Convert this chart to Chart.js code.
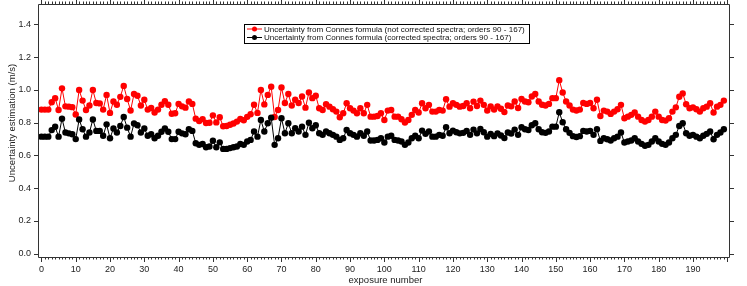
<!DOCTYPE html>
<html>
<head>
<meta charset="utf-8">
<script src="https://cdn.jsdelivr.net/npm/chart.js@4"></script>
<style>
  html, body { margin: 0; padding: 0; background: #fff; }
  #wrap { width: 747px; height: 286px; }
</style>
</head>
<body>
<div id="wrap"><canvas id="chart" width="747" height="286"></canvas></div>
<script>
const notCorrected = [
  0.88, 0.88, 0.88, 0.925, 0.95, 0.878, 1.01, 0.90, 0.898, 0.895,
  0.85, 1.00, 0.935, 0.878, 0.905, 1.00, 0.92, 0.918, 0.88, 0.97,
  0.86, 0.93, 0.91, 0.958, 1.025, 0.945, 0.875, 0.975, 0.965, 0.905,
  0.94, 0.88, 0.89, 0.862, 0.88, 0.91, 0.932, 0.91, 0.855, 0.858,
  0.915, 0.90, 0.892, 0.93, 0.915, 0.825, 0.81, 0.822, 0.798, 0.80,
  0.845, 0.802, 0.833, 0.778, 0.78, 0.788, 0.795, 0.807, 0.823, 0.815,
  0.836, 0.852, 0.91, 0.86, 1.00, 0.912, 0.97, 1.02, 0.835, 0.878,
  1.015, 0.92, 0.975, 0.905, 0.94, 0.92, 0.96, 0.892, 0.985, 0.95,
  0.965, 0.888, 0.878, 0.913, 0.898, 0.882, 0.868, 0.833, 0.858, 0.919,
  0.888, 0.874, 0.858, 0.888, 0.858, 0.909, 0.837, 0.837, 0.841, 0.858,
  0.817, 0.874, 0.878, 0.837, 0.837, 0.821, 0.801, 0.817, 0.848, 0.878,
  0.862, 0.919, 0.888, 0.909, 0.868, 0.868, 0.878, 0.874, 0.943, 0.898,
  0.919, 0.909, 0.898, 0.902, 0.919, 0.888, 0.929, 0.902, 0.935, 0.909,
  0.875, 0.90, 0.88, 0.90, 0.885, 0.865, 0.905, 0.90, 0.93, 0.89,
  0.945, 0.93, 0.925, 0.96, 0.975, 0.93, 0.91, 0.905, 0.915, 0.95,
  0.95, 1.06, 0.985, 0.93, 0.905, 0.88, 0.875, 0.88, 0.92, 0.915,
  0.92, 0.888, 0.94, 0.841, 0.874, 0.868, 0.854, 0.868, 0.882, 0.909,
  0.827, 0.837, 0.848, 0.862, 0.837, 0.817, 0.807, 0.817, 0.837, 0.868,
  0.837, 0.817, 0.813, 0.827, 0.868, 0.894, 0.959, 0.979, 0.913, 0.888,
  0.894, 0.882, 0.868, 0.888, 0.898, 0.919, 0.862, 0.898, 0.909, 0.935
];

const corrected = [
  0.715, 0.715, 0.715, 0.755, 0.775, 0.715, 0.825, 0.74, 0.735, 0.73,
  0.70, 0.82, 0.76, 0.715, 0.74, 0.82, 0.75, 0.75, 0.72, 0.79,
  0.705, 0.765, 0.74, 0.78, 0.835, 0.77, 0.715, 0.795, 0.785, 0.74,
  0.765, 0.72, 0.73, 0.705, 0.72, 0.745, 0.765, 0.745, 0.70, 0.70,
  0.745, 0.735, 0.73, 0.76, 0.75, 0.675, 0.665, 0.67, 0.65, 0.655,
  0.69, 0.65, 0.68, 0.64, 0.64, 0.645, 0.65, 0.655, 0.67, 0.665,
  0.685, 0.695, 0.746, 0.715, 0.817, 0.746, 0.797, 0.831, 0.665, 0.705,
  0.827, 0.736, 0.797, 0.736, 0.766, 0.746, 0.776, 0.726, 0.80, 0.766,
  0.785, 0.736, 0.726, 0.746, 0.736, 0.726, 0.715, 0.695, 0.705, 0.756,
  0.736, 0.726, 0.715, 0.736, 0.72, 0.746, 0.691, 0.691, 0.695, 0.705,
  0.679, 0.715, 0.72, 0.695, 0.691, 0.685, 0.665, 0.679, 0.705, 0.72,
  0.705, 0.752, 0.732, 0.746, 0.715, 0.715, 0.726, 0.72, 0.772, 0.736,
  0.752, 0.742, 0.735, 0.738, 0.75, 0.726, 0.758, 0.735, 0.762, 0.742,
  0.715, 0.732, 0.718, 0.735, 0.722, 0.706, 0.74, 0.734, 0.758, 0.726,
  0.772, 0.76, 0.756, 0.785, 0.797, 0.76, 0.742, 0.738, 0.746, 0.776,
  0.776, 0.864, 0.803, 0.76, 0.738, 0.718, 0.713, 0.718, 0.75, 0.746,
  0.75, 0.726, 0.76, 0.689, 0.705, 0.699, 0.691, 0.705, 0.715, 0.74,
  0.679, 0.685, 0.691, 0.705, 0.685, 0.671, 0.659, 0.665, 0.685, 0.705,
  0.685, 0.671, 0.665, 0.679, 0.705, 0.726, 0.78, 0.797, 0.736, 0.72,
  0.726, 0.715, 0.705, 0.72, 0.732, 0.746, 0.699, 0.726, 0.74, 0.76
];

const exposures = notCorrected.map((v, i) => i);
const yTickValues = [0, 0.2, 0.4, 0.6, 0.8, 1.0, 1.2, 1.4];
const xTickValues = [0, 10, 20, 30, 40, 50, 60, 70, 80, 90, 100, 110, 120, 130, 140, 150, 160, 170, 180, 190];
const seriesNames = [
  'Uncertainty from Connes formula (not corrected spectra; orders 90 - 167)',
  'Uncertainty from Connes formula (corrected spectra; orders 90 - 167)'
];
const seriesColors = ['#ff0000', '#000000'];

const FONT = '"Liberation Sans", Arial, Helvetica, sans-serif';
const AXIS = '#333';

function toPoints(arr) {
  return arr.map((y, i) => ({ x: exposures[i], y: y }));
}

// frame, ticks, tick labels, axis titles and the boxed legend
const decorPlugin = {
  id: 'decor',
  afterDraw(chart) {
    const ctx = chart.ctx;
    const a = chart.chartArea;
    const xs = chart.scales.x, ys = chart.scales.y;
    ctx.save();
    ctx.strokeStyle = AXIS;
    ctx.lineWidth = 1;
    ctx.beginPath();
    ctx.rect(Math.round(a.left) + 0.5, Math.round(a.top) + 0.5,
             Math.round(a.right - a.left), Math.round(a.bottom - a.top));
    ctx.stroke();

    ctx.beginPath();
    yTickValues.forEach(v => {
      const y = Math.round(ys.getPixelForValue(v)) + 0.5;
      ctx.moveTo(a.left - 4, y); ctx.lineTo(a.left, y);
      ctx.moveTo(a.right, y); ctx.lineTo(a.right + 5, y);
    });
    for (let i = 0; i <= 200; i++) {
      const x = Math.round(xs.getPixelForValue(i)) + 0.5;
      const len = i % 10 === 0 ? 5 : 2.5;
      ctx.moveTo(x, a.bottom); ctx.lineTo(x, a.bottom + len);
      ctx.moveTo(x, a.top); ctx.lineTo(x, a.top - len);
    }
    ctx.stroke();

    ctx.fillStyle = '#222';
    ctx.font = '9px ' + FONT;
    ctx.textBaseline = 'middle';
    ctx.textAlign = 'right';
    yTickValues.forEach(v => ctx.fillText(v.toFixed(1), a.left - 7, ys.getPixelForValue(v)));
    ctx.textAlign = 'center';
    xTickValues.forEach(v => ctx.fillText(String(v), xs.getPixelForValue(v), a.bottom + 13));

    // axis titles
    ctx.font = '9.5px ' + FONT;
    ctx.fillText('exposure number', (a.left + a.right) / 2 + 2, 280.5);
    ctx.save();
    ctx.translate(12, 123);
    ctx.rotate(-Math.PI / 2);
    ctx.fillText('Uncertainty estimation (m/s)', 0, 0);
    ctx.restore();

    // legend box
    const bx = 244, by = 24, bw = 285, bh = 19;
    ctx.fillStyle = '#fff';
    ctx.fillRect(bx, by, bw, bh);
    ctx.strokeStyle = '#000';
    ctx.strokeRect(bx + 0.5, by + 0.5, bw, bh);
    ctx.font = '10px ' + FONT;
    const fs = 10 * 261 / ctx.measureText(seriesNames[0]).width;
    ctx.font = fs.toFixed(2) + 'px ' + FONT;
    ctx.textAlign = 'left';
    seriesNames.forEach((name, k) => {
      const ly = by + 5 + k * 8.5;
      ctx.strokeStyle = seriesColors[k];
      ctx.fillStyle = seriesColors[k];
      ctx.beginPath();
      ctx.moveTo(bx + 3, ly); ctx.lineTo(bx + 18, ly);
      ctx.stroke();
      ctx.beginPath();
      ctx.arc(bx + 10.5, ly, 2.5, 0, Math.PI * 2);
      ctx.fill();
      ctx.fillStyle = '#111';
      ctx.fillText(name, bx + 20, ly + 0.5);
    });
    ctx.restore();
  }
};

new Chart(document.getElementById('chart'), {
  type: 'line',
  data: {
    datasets: [
      { label: seriesNames[1], data: toPoints(corrected), borderColor: seriesColors[1], backgroundColor: seriesColors[1],
        borderWidth: 1, pointRadius: 3.2, pointBorderWidth: 0, tension: 0 },
      { label: seriesNames[0], data: toPoints(notCorrected), borderColor: seriesColors[0], backgroundColor: seriesColors[0],
        borderWidth: 1, pointRadius: 3.2, pointBorderWidth: 0, tension: 0 }
    ]
  },
  options: {
    responsive: false,
    animation: false,
    events: [],
    layout: { padding: { top: 4, right: 18, left: 0, bottom: 0 } },
    plugins: { legend: { display: false }, tooltip: { enabled: false } },
    scales: {
      x: {
        type: 'linear', min: -1, max: 200.5,
        grid: { display: false }, border: { display: false },
        ticks: { display: false },
        afterFit(s) { s.height = 29; }
      },
      y: {
        min: -0.02, max: 1.525,
        grid: { display: false }, border: { display: false },
        ticks: { display: false },
        afterFit(s) { s.width = 38; }
      }
    }
  },
  plugins: [decorPlugin]
});
</script>
</body>
</html>
